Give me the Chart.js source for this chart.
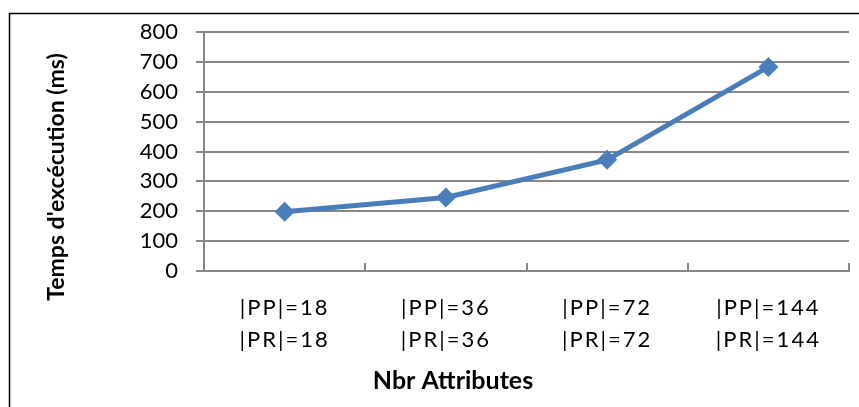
<!DOCTYPE html>
<html>
<head>
<meta charset="utf-8">
<script src="https://cdn.jsdelivr.net/npm/chart.js@4/dist/chart.umd.min.js"></script>
<style>
  html, body { margin: 0; padding: 0; background: #ffffff; }
  #wrap { position: relative; width: 859px; height: 407px; }
</style>
</head>
<body>
<div id="wrap"><canvas id="c" width="859" height="407"></canvas></div>
<script>
// ---- data ----
const categories = [
  ["|PP|=18", "|PR|=18"],
  ["|PP|=36", "|PR|=36"],
  ["|PP|=72", "|PR|=72"],
  ["|PP|=144", "|PR|=144"]
];
const execTimes = [198, 246, 372, 683];
const yTicks = [0, 100, 200, 300, 400, 500, 600, 700, 800];
const yTitle = "Temps d'excécution (ms)";
const xTitle = "Nbr Attributes";

const FONT = "Lato, 'Open Sans', sans-serif";
const GRID = '#888888';

const frameAndTitles = {
  id: 'frameAndTitles',
  beforeDraw(chart) {
    const ctx = chart.ctx;
    ctx.save();
    ctx.fillStyle = '#ffffff';
    ctx.fillRect(0, 0, chart.width, chart.height);
    ctx.strokeStyle = '#000000';
    ctx.lineWidth = 1.5;
    ctx.beginPath();
    ctx.moveTo(9.5, chart.height + 2);
    ctx.lineTo(9.5, 13.5);
    ctx.lineTo(chart.width + 2, 13.5);
    ctx.stroke();
    ctx.restore();
  },
  afterDraw(chart) {
    const ctx = chart.ctx;
    ctx.save();
    ctx.fillStyle = '#000000';
    ctx.textAlign = 'center';
    ctx.textBaseline = 'middle';
    ctx.font = "bold 23px " + FONT;
    ctx.translate(57, 177);
    ctx.rotate(-Math.PI / 2);
    ctx.fillText(yTitle, 0, 0);
    ctx.restore();
    ctx.save();
    ctx.fillStyle = '#000000';
    ctx.textAlign = 'center';
    ctx.textBaseline = 'middle';
    ctx.font = "bold 25px " + FONT;
    ctx.fillText(xTitle, 453, 381);
    ctx.restore();
  }
};

function spacedLabels(scale) {
  if (scale._spaced) return;
  scale._spaced = true;
  const orig = scale.drawLabels.bind(scale);
  scale.drawLabels = function (area) {
    const ctx = scale.ctx;
    ctx.save();
    ctx.letterSpacing = '2px';
    orig(area);
    ctx.restore();
  };
}

new Chart(document.getElementById('c'), {
  type: 'line',
  data: {
    labels: categories,
    datasets: [{
      data: execTimes,
      borderColor: '#4a7ebb',
      backgroundColor: '#4a7ebb',
      borderWidth: 5,
      pointStyle: 'rectRot',
      pointRadius: 10,
      pointHoverRadius: 10,
      pointBorderWidth: 0,
      pointBackgroundColor: '#4a7ebb',
      tension: 0,
      fill: false
    }]
  },
  options: {
    responsive: false,
    animation: false,
    events: [],
    layout: { padding: { left: 0, right: 7, top: 32, bottom: 0 } },
    plugins: { legend: { display: false }, tooltip: { enabled: false } },
    scales: {
      x: {
        type: 'category',
        offset: true,
        afterFit(scale) { scale.height = 136; },
        afterUpdate(scale) { spacedLabels(scale); },
        grid: {
          offset: true,
          drawOnChartArea: false,
          drawTicks: true,
          tickLength: -8,
          color: GRID,
          lineWidth: 2
        },
        border: { display: true, color: GRID, width: 2 },
        ticks: {
          color: '#000000',
          font: { family: FONT, size: 22, lineHeight: 1.45 },
          padding: 29,
          maxRotation: 0,
          autoSkip: false
        }
      },
      y: {
        min: 0,
        max: 800,
        afterFit(scale) { scale.width = 204; },
        afterBuildTicks(scale) { scale.ticks = yTicks.map(v => ({ value: v })); },
        grid: {
          drawOnChartArea: true,
          drawTicks: true,
          tickLength: 8,
          color: GRID,
          lineWidth: 2
        },
        border: { display: true, color: GRID, width: 2 },
        ticks: {
          color: '#000000',
          font: { family: FONT, size: 22 },
          padding: 18
        }
      }
    }
  },
  plugins: [frameAndTitles]
});
</script>
</body>
</html>
